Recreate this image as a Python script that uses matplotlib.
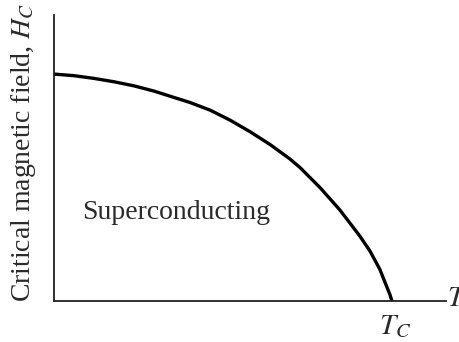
import matplotlib
matplotlib.use("Agg")
import matplotlib.pyplot as plt

# Critical field boundary, normalised: T / T_C and H_C(T) / H_C(0)
temperature = [0.0, 0.059, 0.118, 0.178, 0.237, 0.296, 0.355, 0.402, 0.462,
               0.521, 0.580, 0.639, 0.698, 0.728, 0.787, 0.846, 0.905,
               0.935, 0.964, 0.994, 1.0]
critical_field = [1.0, 0.993, 0.981, 0.966, 0.948, 0.925, 0.897, 0.875, 0.841,
                  0.797, 0.746, 0.690, 0.626, 0.588, 0.500, 0.401, 0.286,
                  0.220, 0.140, 0.028, 0.0]

region_label = "Superconducting"
y_label = "Critical magnetic field, $H_C$"
x_end_label = "$T$"
tc_label = "$T_C$"

plt.rcParams["font.family"] = ["Liberation Serif", "DejaVu Serif"]
plt.rcParams["mathtext.fontset"] = "stix"

fig = plt.figure(figsize=(4.6, 3.42), dpi=100)
ax = fig.add_axes([0.1174, 0.1199, 0.8515, 0.836])

ax.plot(temperature, critical_field, color="black", lw=2.4,
        solid_capstyle="butt", solid_joinstyle="round", clip_on=False)

ax.set_xlim(0, 1.159)
ax.set_ylim(0, 1.26)

for side in ("top", "right"):
    ax.spines[side].set_visible(False)
for side in ("left", "bottom"):
    ax.spines[side].set_color("#222222")
    ax.spines[side].set_linewidth(1.3)
ax.set_xticks([])
ax.set_yticks([])

text_color = "#2a2a2a"
ax.text(0.083, 0.388, region_label, fontsize=20, color=text_color,
        ha="left", va="center")

ax.text(0.962, -0.055, tc_label, fontsize=21, color=text_color,
        ha="left", va="top")
ax.text(1.163, 0.01, x_end_label, fontsize=21, color=text_color,
        ha="left", va="center", clip_on=False)

fig.text(0.052, 0.117, y_label, rotation=90, fontsize=20, color=text_color,
         ha="center", va="bottom")

fig.savefig("out.png", dpi=100)
